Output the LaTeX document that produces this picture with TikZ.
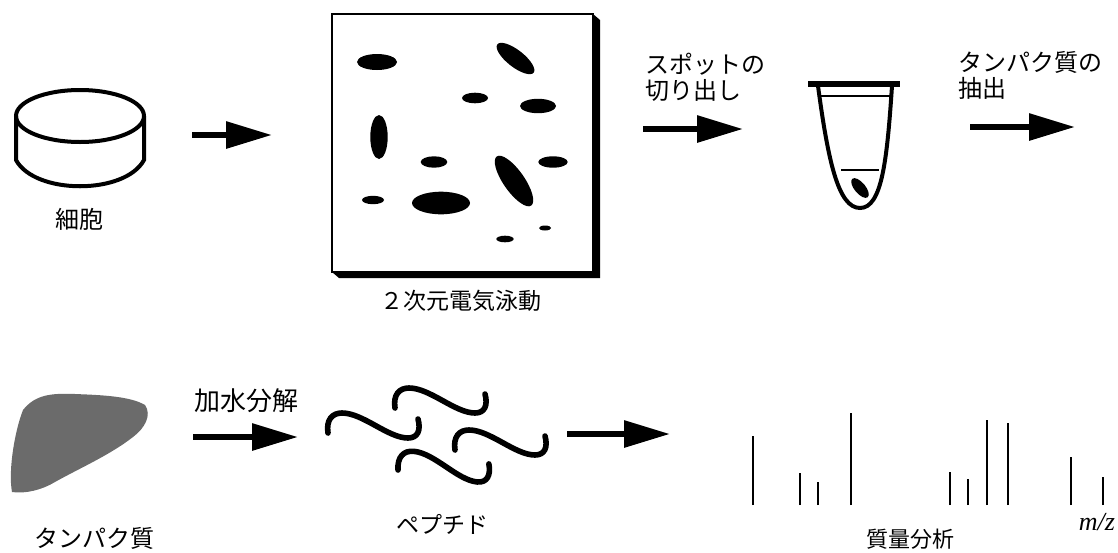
\documentclass[tikz,border=0pt]{standalone}
\usepackage{fontspec}
\setmainfont{Noto Sans CJK JP}
\newfontfamily\romanfont{Liberation Serif}
\usetikzlibrary{arrows.meta}

\begin{document}
\begin{tikzpicture}[x=0.5pt,y=-0.5pt,
    lbl/.style={inner sep=0pt, font=\fontsize{12}{13}\selectfont},
    flow/.style={line width=3pt, -{Triangle[length=23pt,width=13pt]}},
    outline/.style={line width=2pt},
    peak/.style={line width=0.7pt},
    spot/.style={fill=black},
    peptide/.pic={\draw[line width=2.8pt, line cap=round]
        (0,0) .. controls (-2,-13) and (4,-20) .. (14,-20)
        .. controls (35,-20) and (60,5) .. (80,5)
        .. controls (90,5) and (93,-3) .. (90,-14);}]
  \useasboundingbox (0,0) rectangle (1118,552);

  % culture dish
  \draw[outline] (80,116) ellipse [x radius=64, y radius=26];
  \draw[outline] (16,116) -- (16,160) .. controls (35,195) and (125,195) .. (144,160) -- (144,116);
  \node[lbl] (cell) at (79,219) {細胞};

  % 2D gel with its dark edge
  \fill (593,14) -- (600,20) -- (600,278) -- (339,278) -- (332,272) -- (593,272) -- cycle;
  \draw[line width=0.8pt, fill=white] (332,14) rectangle (593,272);
  \fill[spot] (377,62) ellipse [x radius=20, y radius=8];
  \fill[spot, rotate around={-38:(515.5,58.5)}] (515.5,58.5) ellipse [x radius=23, y radius=8.5];
  \fill[spot] (475,98) ellipse [x radius=13, y radius=5.3];
  \fill[spot] (538,106) ellipse [x radius=18, y radius=7.2];
  \fill[spot] (379,137) ellipse [x radius=8.7, y radius=22];
  \fill[spot] (434,162) ellipse [x radius=13.3, y radius=5.7];
  \fill[spot, rotate around={-55:(514,181)}] (514,181) ellipse [x radius=30, y radius=10.5];
  \fill[spot] (553,162) ellipse [x radius=14.7, y radius=5.7];
  \fill[spot] (373,200) ellipse [x radius=11, y radius=4.2];
  \fill[spot] (441,203) ellipse [x radius=29, y radius=11.3];
  \fill[spot] (545,228) ellipse [x radius=6, y radius=2.5];
  \fill[spot] (505,239) ellipse [x radius=8.7, y radius=3.3];
  \node[lbl, font=\fontsize{11.5}{13}\selectfont] (gel) at (461,301) {２次元電気泳動};

  % sample tube
  \draw[line width=3pt] (808,84) -- (900,84);
  \draw[outline] (818,86) .. controls (828,160) and (838,208) .. (860,208)
      .. controls (882,208) and (887,160) .. (892,86);
  \draw[line width=0.6pt] (820,96) -- (890,96);
  \draw[line width=0.6pt] (841,170) -- (879,170);
  \fill[spot, rotate around={-50:(860,188)}] (860,188) ellipse [x radius=12, y radius=5.5];

  % protein
  \fill[black!58] (23,410) .. controls (35,395) and (50,393) .. (75,394)
      .. controls (100,395) and (130,396) .. (145,405)
      .. controls (152,415) and (145,428) .. (133,437)
      .. controls (110,455) and (80,468) .. (55,482)
      .. controls (42,490) and (25,494) .. (12,492)
      .. controls (8,470) and (15,430) .. (23,410) -- cycle;
  \node[lbl] (protein) at (94,538) {タンパク質};

  % peptides
  \pic at (328,433) {peptide};
  \pic at (395,408) {peptide};
  \pic at (455,450) {peptide};
  \pic[rotate=-5] at (398,470) {peptide};
  \node[lbl, font=\fontsize{11.5}{13}\selectfont] (pept) at (442,524) {ペプチド};

  % mass spectrum
  \foreach \x/\top in {753/436, 800/473, 818/482, 851/413, 950/472,
                       968/479, 987/420, 1008/423, 1071/457, 1103/477}
    \draw[peak] (\x,505) -- (\x,\top);
  \node[inner sep=0pt, font=\romanfont\itshape\fontsize{13}{14}\selectfont] (mz) at (1097,522) {m/z};
  \node[lbl, font=\fontsize{11}{13}\selectfont] (ms) at (910,539) {質量分析};

  % arrows and their labels
  \coordinate (a1s) at (192,135);  \coordinate (a1e) at (272,135);
  \coordinate (a2s) at (643,129);  \coordinate (a2e) at (743,129);
  \coordinate (a3s) at (970,127);  \coordinate (a3e) at (1075,127);
  \coordinate (a4s) at (193,437);  \coordinate (a4e) at (298,437);
  \coordinate (a5s) at (567,434);  \coordinate (a5e) at (670,434);
  \draw[flow] (a1s) -- (a1e);
  \draw[flow] (a2s) -- (a2e);
  \draw[flow] (a3s) -- (a3e);
  \draw[flow] (a4s) -- (a4e);
  \draw[flow] (a5s) -- (a5e);
  \node[lbl, anchor=west, align=left] (cut) at (645,77) {スポットの\\切り出し};
  \node[lbl, anchor=west, align=left] (extr) at (958,75) {タンパク質の\\抽出};
  \node[lbl, font=\fontsize{13}{13}\selectfont] (hydro) at (246,401) {加水分解};
\end{tikzpicture}
\end{document}
